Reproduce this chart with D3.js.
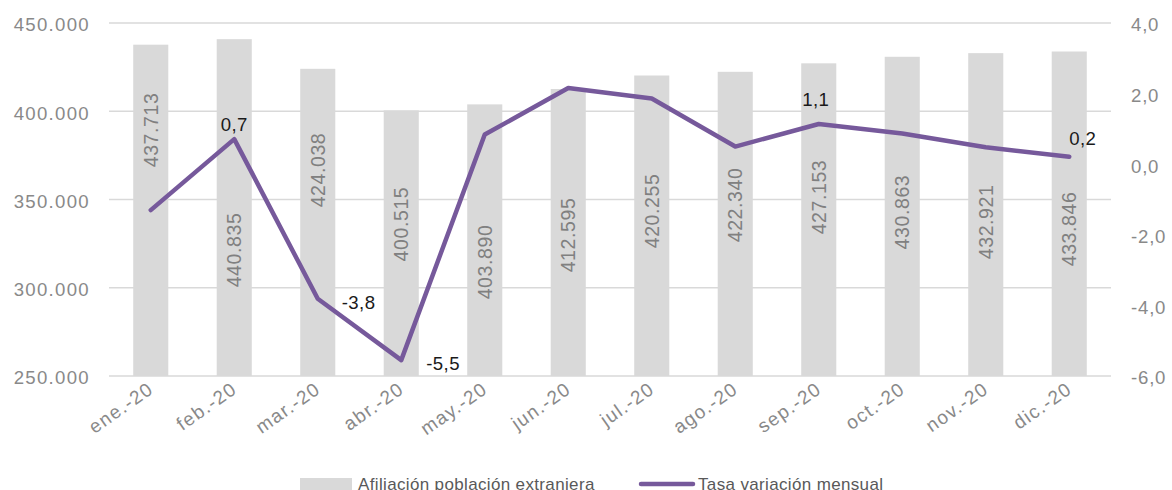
<!DOCTYPE html>
<html><head><meta charset="utf-8">
<script src="https://cdn.jsdelivr.net/npm/d3@7"></script>
<style>
html,body{margin:0;padding:0;background:#fff;}
svg{display:block;font-family:"Liberation Sans",Arial,sans-serif;}
</style></head>
<body><svg id="c" width="1172" height="490"></svg>
<script>
// ---- data ----
const categories = ["ene.-20","feb.-20","mar.-20","abr.-20","may.-20","jun.-20","jul.-20","ago.-20","sep.-20","oct.-20","nov.-20","dic.-20"];
const afiliacion = [437713,440835,424038,400515,403890,412595,420255,422340,427153,430863,432921,433846];
const tasa = [-1.3,0.71,-3.81,-5.55,0.84,2.16,1.86,0.50,1.14,0.87,0.48,0.21];
const leftTicks = [250000,300000,350000,400000,450000];
const rightTicks = [-6,-4,-2,0,2,4];
const labelledPoints = [1,2,3,8,11];
const seriesNames = ["Afiliación población extranjera","Tasa variación mensual"];

// ---- layout (not data) ----
const barLabelAt = [389400,321400,366700,336100,314600,329900,343500,346900,351400,342900,337300,333300];
const pointLabelOffset = {1:{dx:0,dy:-8,anchor:"middle"},2:{dx:24,dy:10,anchor:"start"},3:{dx:25,dy:10,anchor:"start"},8:{dx:-3,dy:-18,anchor:"middle"},11:{dx:0,dy:-12,anchor:"start"}};

const fmtThousands = v => d3.format(",")(v).replace(/,/g,".");
const fmtDec = v => d3.format(".1f")(v).replace(".",",").replace("\u2212","-");

const svg = d3.select("#c");
const L = 109, R = 1111, T = 23, B = 376;
const x = d3.scaleBand().domain(categories).range([L,R]).paddingInner(0.58).paddingOuter(0.29);
const yL = d3.scaleLinear().domain([250000,450000]).range([B,T]);
const yR = d3.scaleLinear().domain([-6,4]).range([B,T]);

// gridlines
svg.append("g").selectAll("line").data(leftTicks).join("line")
  .attr("x1",L).attr("x2",R).attr("y1",d=>yL(d)).attr("y2",d=>yL(d))
  .attr("stroke","#d9d9d9").attr("stroke-width",1.5);

// left axis
const gl = svg.append("g").attr("transform",`translate(90,0)`)
  .call(d3.axisLeft(yL).tickValues(leftTicks).tickFormat(fmtThousands).tickSize(0).tickPadding(0));
gl.select(".domain").remove();
gl.selectAll("text").attr("font-size",18.6).attr("fill","#898989").attr("font-family","Liberation Sans, Arial, sans-serif")
  .attr("letter-spacing",1.3).attr("dy","0.42em");

// right axis
const gr = svg.append("g").attr("transform",`translate(1131,0)`)
  .call(d3.axisRight(yR).tickValues(rightTicks).tickFormat(fmtDec).tickSize(0).tickPadding(0));
gr.select(".domain").remove();
gr.selectAll("text").attr("font-size",18.6).attr("fill","#898989").attr("font-family","Liberation Sans, Arial, sans-serif")
  .attr("letter-spacing",0.8).attr("dy","0.42em");

// bars
svg.append("g").selectAll("rect").data(afiliacion).join("rect")
  .attr("x",(d,i)=>x(categories[i])).attr("width",x.bandwidth())
  .attr("y",d=>yL(d)).attr("height",d=>B-yL(d)).attr("fill","#d9d9d9");

// bar labels
svg.append("g").selectAll("text").data(afiliacion).join("text")
  .attr("transform",(d,i)=>`translate(${x(categories[i])+x.bandwidth()/2},${yL(barLabelAt[i])}) rotate(-90)`)
  .attr("text-anchor","middle").attr("dy","0.36em")
  .attr("font-size",19.5).attr("letter-spacing",0.6).attr("fill","#808080")
  .text(d=>fmtThousands(d));

// x axis labels
const xa = svg.append("g").attr("transform",`translate(0,${B})`)
  .call(d3.axisBottom(x).tickSize(0).tickPadding(0));
xa.select(".domain").remove();
xa.selectAll("text").attr("font-size",19).attr("fill","#898989").attr("font-family","Liberation Sans, Arial, sans-serif")
  .attr("letter-spacing",1.3).attr("text-anchor","end").attr("dy",0).attr("y",0)
  .attr("transform","translate(4,16) rotate(-35)");

// line
const line = d3.line().x((d,i)=>x(categories[i])+x.bandwidth()/2).y(d=>yR(d));
svg.append("path").datum(tasa).attr("d",line).attr("fill","none")
  .attr("stroke","#76599b").attr("stroke-width",4.5).attr("stroke-linejoin","round").attr("stroke-linecap","round");

// point labels
svg.append("g").selectAll("text").data(labelledPoints).join("text")
  .attr("x",i=>x(categories[i])+x.bandwidth()/2+pointLabelOffset[i].dx)
  .attr("y",i=>yR(tasa[i])+pointLabelOffset[i].dy)
  .attr("text-anchor",i=>pointLabelOffset[i].anchor)
  .attr("font-size",18.6).attr("letter-spacing",0.4).attr("fill","#1a1a1a")
  .text(i=>fmtDec(tasa[i]));

// legend
const lg = svg.append("g");
lg.append("rect").attr("x",300).attr("y",478).attr("width",52).attr("height",14).attr("fill","#d9d9d9");
lg.append("text").attr("x",358).attr("y",490).attr("font-size",17).attr("letter-spacing",0.35).attr("fill","#595959").text(seriesNames[0]);
lg.append("line").attr("x1",641).attr("x2",693).attr("y1",484).attr("y2",484).attr("stroke","#76599b").attr("stroke-width",4.5).attr("stroke-linecap","round");
lg.append("text").attr("x",698).attr("y",490).attr("font-size",17).attr("letter-spacing",0.35).attr("fill","#595959").text(seriesNames[1]);
</script></body></html>
